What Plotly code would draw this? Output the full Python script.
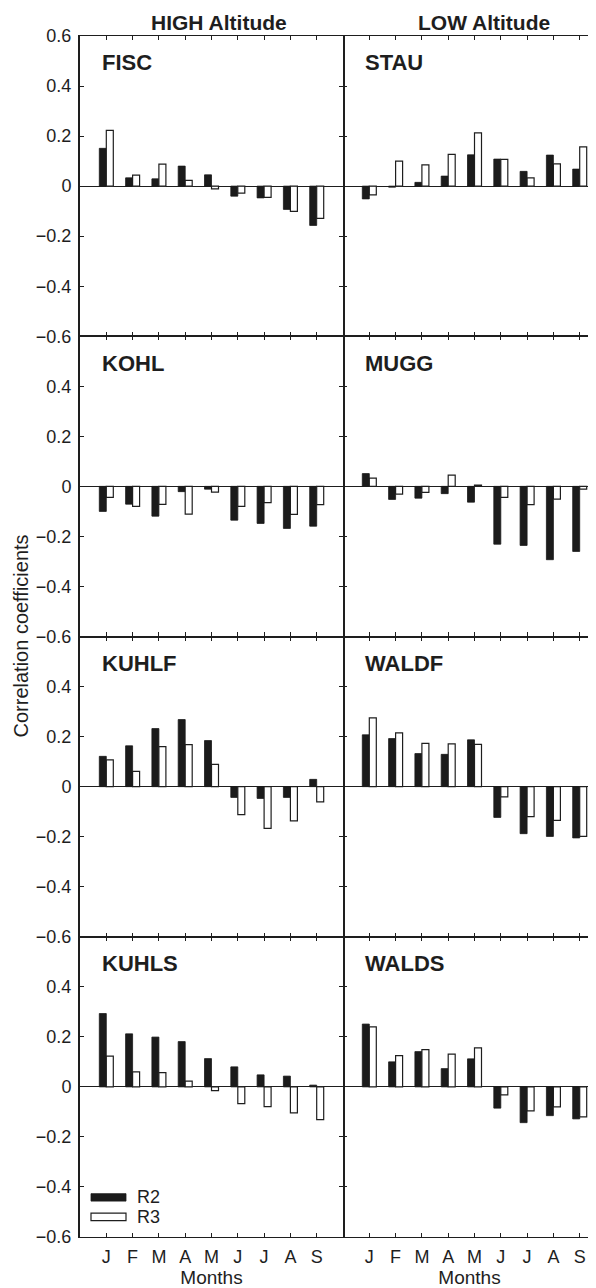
import plotly.graph_objects as go
from plotly.subplots import make_subplots

# ---------------- data ----------------
months = ["J", "F", "M", "A", "M", "J", "J", "A", "S"]
month_pos = [1, 2, 3, 4, 5, 6, 7, 8, 9]
column_titles = ["HIGH Altitude", "LOW Altitude"]
sites_high = ["FISC", "KOHL", "KUHLF", "KUHLS"]
sites_low = ["STAU", "MUGG", "WALDF", "WALDS"]
series_names = ["R2", "R3"]

FISC_R2 = [0.151, 0.033, 0.029, 0.080, 0.045, -0.040, -0.047, -0.093, -0.157]
FISC_R3 = [0.223, 0.044, 0.088, 0.023, -0.011, -0.028, -0.045, -0.101, -0.129]
STAU_R2 = [-0.051, -0.004, 0.015, 0.040, 0.125, 0.108, 0.059, 0.124, 0.068]
STAU_R3 = [-0.035, 0.100, 0.085, 0.127, 0.213, 0.107, 0.033, 0.089, 0.157]
KOHL_R2 = [-0.100, -0.071, -0.119, -0.021, -0.011, -0.135, -0.148, -0.168, -0.159]
KOHL_R3 = [-0.044, -0.080, -0.072, -0.111, -0.023, -0.080, -0.065, -0.112, -0.073]
MUGG_R2 = [0.051, -0.052, -0.047, -0.029, -0.063, -0.231, -0.236, -0.293, -0.260]
MUGG_R3 = [0.033, -0.031, -0.024, 0.045, 0.005, -0.044, -0.073, -0.051, -0.011]
KUHLF_R2 = [0.121, 0.163, 0.232, 0.268, 0.184, -0.043, -0.047, -0.043, 0.029]
KUHLF_R3 = [0.107, 0.061, 0.160, 0.168, 0.089, -0.112, -0.167, -0.137, -0.061]
WALDF_R2 = [0.207, 0.192, 0.132, 0.129, 0.187, -0.123, -0.188, -0.199, -0.205]
WALDF_R3 = [0.275, 0.215, 0.173, 0.171, 0.169, -0.041, -0.120, -0.135, -0.199]
KUHLS_R2 = [0.293, 0.212, 0.199, 0.181, 0.113, 0.080, 0.048, 0.043, 0.007]
KUHLS_R3 = [0.123, 0.060, 0.057, 0.023, -0.015, -0.067, -0.079, -0.104, -0.131]
WALDS_R2 = [0.251, 0.100, 0.141, 0.073, 0.112, -0.085, -0.143, -0.115, -0.128]
WALDS_R3 = [0.240, 0.125, 0.149, 0.131, 0.156, -0.032, -0.096, -0.080, -0.120]

y_ticks = [-0.6, -0.4, -0.2, 0, 0.2, 0.4, 0.6]
y_ticktext = ["\u22120.6", "\u22120.4", "\u22120.2", "0", "0.2", "0.4", "0.6"]

values = {
    "FISC": (FISC_R2, FISC_R3), "STAU": (STAU_R2, STAU_R3),
    "KOHL": (KOHL_R2, KOHL_R3), "MUGG": (MUGG_R2, MUGG_R3),
    "KUHLF": (KUHLF_R2, KUHLF_R3), "WALDF": (WALDF_R2, WALDF_R3),
    "KUHLS": (KUHLS_R2, KUHLS_R3), "WALDS": (WALDS_R2, WALDS_R3),
}

# ---------------- layout constants ----------------
# the page body has an 8px margin; the figure is sized so that the
# plotting area lands where the reference has it
W, H = 588, 1280
ML, MR, MT, MB = 72, 0, 28, 47
LEFT_W, RIGHT_W = 263, 253
SLOT = LEFT_W / 10.0
BAR_W = 0.266
INK = "#1e1e1e"
FONT = "Liberation Sans, Arial, Helvetica, sans-serif"
PANEL_H = (H - MT - MB) / 4.0

fig = make_subplots(rows=4, cols=2, column_widths=[LEFT_W, RIGHT_W],
                    horizontal_spacing=0, vertical_spacing=0)

for r in range(4):
    for c, sites in enumerate([sites_high, sites_low]):
        site = sites[r]
        r2, r3 = values[site]
        fig.add_trace(go.Bar(x=month_pos, y=r2, width=BAR_W, offset=-BAR_W,
                             marker=dict(color="#1b1b1b", line=dict(color="#1b1b1b", width=0.8)),
                             name=series_names[0], showlegend=False),
                      row=r + 1, col=c + 1)
        fig.add_trace(go.Bar(x=month_pos, y=r3, width=BAR_W, offset=0,
                             marker=dict(color="white", line=dict(color=INK, width=1.2)),
                             name=series_names[1], showlegend=False),
                      row=r + 1, col=c + 1)

        xr = [0, 10] if c == 0 else [0, RIGHT_W / SLOT]
        fig.update_xaxes(range=xr, tickvals=month_pos, ticktext=months,
                         showticklabels=(r == 3), ticks="inside", ticklen=4,
                         tickwidth=1.3, tickcolor=INK, showline=True, linecolor=INK,
                         linewidth=1.2, mirror="ticks", showgrid=False, zeroline=False,
                         ticklabelstandoff=3,
                         tickfont=dict(size=18, color=INK, family=FONT),
                         row=r + 1, col=c + 1)
        if r == 3:
            fig.update_xaxes(title=dict(text="Months", standoff=8,
                                        font=dict(size=19, color=INK, family=FONT)),
                             row=r + 1, col=c + 1)
        tv = y_ticks if r == 0 else y_ticks[:-1]
        tt = y_ticktext if r == 0 else y_ticktext[:-1]
        fig.update_yaxes(range=[-0.6, 0.6], tickvals=tv, ticktext=tt,
                         showticklabels=(c == 0), ticks="inside", ticklen=4,
                         tickwidth=1.3, tickcolor=INK, showline=(c == 0), linecolor=INK,
                         linewidth=2, mirror=("ticks" if c == 0 else False),
                         showgrid=False, zeroline=True, zerolinecolor=INK,
                         zerolinewidth=1.3, ticklabelstandoff=3,
                         tickfont=dict(size=18, color=INK, family=FONT),
                         row=r + 1, col=c + 1)

annotations = []
# panel labels
for r in range(4):
    for c, sites in enumerate([sites_high, sites_low]):
        idx = r * 2 + c + 1
        ax = "" if idx == 1 else str(idx)
        xoff = 20 / (LEFT_W if c == 0 else RIGHT_W)
        annotations.append(dict(text="<b>%s</b>" % sites[r], xref="x%s domain" % ax,
                                yref="y%s domain" % ax, x=xoff, y=1 - 27 / PANEL_H,
                                xanchor="left", yanchor="middle", showarrow=False,
                                font=dict(size=22, color=INK, family=FONT)))
# column titles
plot_w = W - ML - MR
plot_h = H - MT - MB
for cx, t in zip([219, 484], column_titles):
    annotations.append(dict(text="<b>%s</b>" % t, xref="paper", yref="paper",
                            x=(cx - 8 - ML) / plot_w, y=1 + (MT - 14) / plot_h,
                            xanchor="center", yanchor="middle", showarrow=False,
                            font=dict(size=21, color=INK, family=FONT)))
# y axis title
annotations.append(dict(text="Correlation coefficients", xref="paper", yref="paper",
                        x=(20 - 8 - ML) / plot_w, y=0.5, textangle=-90,
                        xanchor="center", yanchor="middle", showarrow=False,
                        font=dict(size=20, color=INK, family=FONT)))

# legend (inside KUHLS panel); pixel offsets measured from the panel's bottom-left
shapes = []
leg_x0, leg_x1 = 11 / LEFT_W, 46 / LEFT_W
shapes.append(dict(type="rect", xref="x7 domain", yref="y7 domain",
                   x0=leg_x0, x1=leg_x1, y0=36 / PANEL_H, y1=43.5 / PANEL_H,
                   fillcolor="#1b1b1b", line=dict(color="#1b1b1b", width=0.8)))
shapes.append(dict(type="rect", xref="x7 domain", yref="y7 domain",
                   x0=leg_x0, x1=leg_x1, y0=16.5 / PANEL_H, y1=24 / PANEL_H,
                   fillcolor="white", line=dict(color=INK, width=1.2)))
annotations.append(dict(text=series_names[0], xref="x7 domain", yref="y7 domain",
                        x=55 / LEFT_W, y=40 / PANEL_H, xanchor="left",
                        yanchor="middle", showarrow=False,
                        font=dict(size=18, color=INK, family=FONT)))
annotations.append(dict(text=series_names[1], xref="x7 domain", yref="y7 domain",
                        x=55 / LEFT_W, y=20 / PANEL_H, xanchor="left",
                        yanchor="middle", showarrow=False,
                        font=dict(size=18, color=INK, family=FONT)))

fig.update_layout(width=W, height=H, margin=dict(l=ML, r=MR, t=MT, b=MB, pad=0),
                  paper_bgcolor="white", plot_bgcolor="white", showlegend=False,
                  barmode="overlay", annotations=annotations, shapes=shapes,
                  font=dict(family=FONT, color=INK))

fig.write_html("out.html")
